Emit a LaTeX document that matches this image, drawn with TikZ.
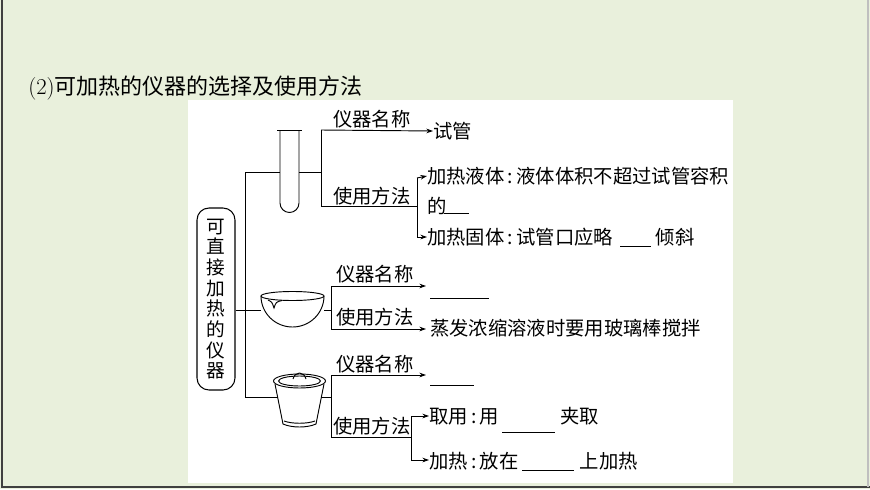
\documentclass[tikz,border=0pt]{standalone}
\usepackage{fontspec}
\newfontfamily\cjk{Noto Sans CJK SC}
\usetikzlibrary{arrows.meta}
\definecolor{bg}{RGB}{233,240,220}
\begin{document}
\begin{tikzpicture}[x=0.75pt,y=-0.75pt,
  t/.style={font=\cjk\fontsize{14.5}{16}\selectfont,inner sep=0pt,anchor=west},
  ln/.style={line width=0.7pt},
  ar/.style={line width=0.7pt,-{Stealth[length=5pt,width=3.5pt]}},
  bl/.style={line width=0.7pt}]
\useasboundingbox (0,0) rectangle (870,489);
\path[fill=bg] (0,0) rectangle (870,489);
\draw[black!75,line width=1.2pt] (2,0) -- (2,487) -- (870,487);
\draw[black!25,line width=0.8pt] (868,0) -- (868,487);
\path[fill=white] (188,100) rectangle (733,483);
\node[t,font=\cjk\fontsize{16.5}{18}\selectfont] (title) at (28,88) {{\rmfamily\fontsize{17}{18}\selectfont(2)}可加热的仪器的选择及使用方法};
% main box
\node[draw,line width=0.8pt,rounded corners=9pt,minimum width=28.5pt,minimum height=136.5pt,inner sep=0pt,
  font=\cjk\fontsize{14}{15.5}\selectfont,align=center] (box) at (216,299) {可\\直\\接\\加\\热\\的\\仪\\器};
\coordinate (tA) at (245,172);
\coordinate (tC) at (245,397);
\draw[ln] (tA) -- (tC);
\draw[ln] (box.east |- 0,310) -- (261,310);
% test tube
\draw[ln] (245,172) -- (280,172);
\draw[ln] (277,130) -- (302,130);
\draw[ln] (280,130) -- (280,203) arc[start angle=180,end angle=0,radius=9.5] -- (299,130);
\draw[ln] (299,172) -- (321,172);
\coordinate (b1t) at (321,130); \coordinate (b1b) at (321,206);
\draw[ln] (b1t) -- (b1b);
\node[t] (n1) at (333,119) {仪器名称};
\node[t] (v1) at (433,131) {试管};
\draw[ar] (b1t) -- (v1.west);
\node[t] (u1) at (333,196) {使用方法};
\coordinate (b2) at (417,206);
\draw[ln] (b1b) -- (b2);
\coordinate (b2t) at (417,178); \coordinate (b2b) at (417,237);
\draw[ln] (b2t) -- (b2b);
\node[t] (l1) at (427,176) {加热液体\,:\,液体体积不超过试管容积};
\node[t] (l1b) at (427,206) {的};
\draw[bl] (444,213) -- (469,213);
\node[t] (l2) at (427,237) {加热固体\,:\,试管口应略\hspace{32pt}倾斜};
\draw[bl] (620,246) -- (651,246);
\draw[ar] (b2t) -- (l1.west);
\draw[ar] (b2b) -- (l2.west |- b2b);
% evaporating dish
\draw[ln] (261,296) arc[start angle=180,end angle=0,x radius=31.5,y radius=31];
\draw[ln] (292.5,296) ellipse[x radius=31.5,y radius=4.5];
\draw[ln] (268,300) .. controls (272,302) .. (274,308) .. controls (276,302) .. (282,300.5);
\draw[ln] (324,310) -- (331,310);
\coordinate (d1t) at (331,286); \coordinate (d1b) at (331,329);
\draw[ln] (d1t) -- (d1b);
\node[t] (n2) at (336,274) {仪器名称};
\node[t] (u2) at (336,317) {使用方法};
\coordinate (e1) at (426,286); \coordinate (e2) at (426,329);
\draw[ar] (d1t) -- (e1);
\draw[ar] (d1b) -- (e2);
\draw[bl] (430,298) -- (489,298);
\node[t] (v2) at (430,328) {蒸发浓缩溶液时要用玻璃棒搅拌};
% crucible
\draw[ln] (299.5,381) ellipse[x radius=26,y radius=7];
\draw[ln] (299.5,381) ellipse[x radius=21,y radius=5];
\draw[ln] (293,379) .. controls (295,371) and (304,371) .. (306,379);
\draw[ln] (275,384) -- (283,424) .. controls (292,428) and (307,428) .. (316,424) -- (324,384);
\draw[ln] (284,421) .. controls (292,424) and (307,424) .. (315,421);
\draw[ln] (245,397) -- (278,397);
\draw[ln] (321,397) -- (331,397);
\coordinate (c1t) at (331,375); \coordinate (c1b) at (331,437);
\draw[ln] (c1t) -- (c1b);
\node[t] (n3) at (336,364) {仪器名称};
\coordinate (f1) at (426,375);
\draw[ar] (c1t) -- (f1);
\draw[bl] (430,385) -- (474,385);
\node[t] (u3) at (333,426) {使用方法};
\coordinate (g) at (411,437);
\draw[ln] (c1b) -- (g);
\coordinate (gt) at (411,416); \coordinate (gb) at (411,460);
\draw[ln] (gt) -- (gb);
\node[t] (m1) at (429,416) {取用\,:\,用\hspace{46pt}夹取};
\node[t] (m2) at (429,461) {加热\,:\,放在\hspace{46pt}上加热};
\draw[bl] (502,432) -- (555,432);
\draw[bl] (522,470) -- (574,470);
\draw[ar] (gt) -- (m1.west);
\draw[ar] (gb) -- (m2.west |- gb);
\end{tikzpicture}
\end{document}
